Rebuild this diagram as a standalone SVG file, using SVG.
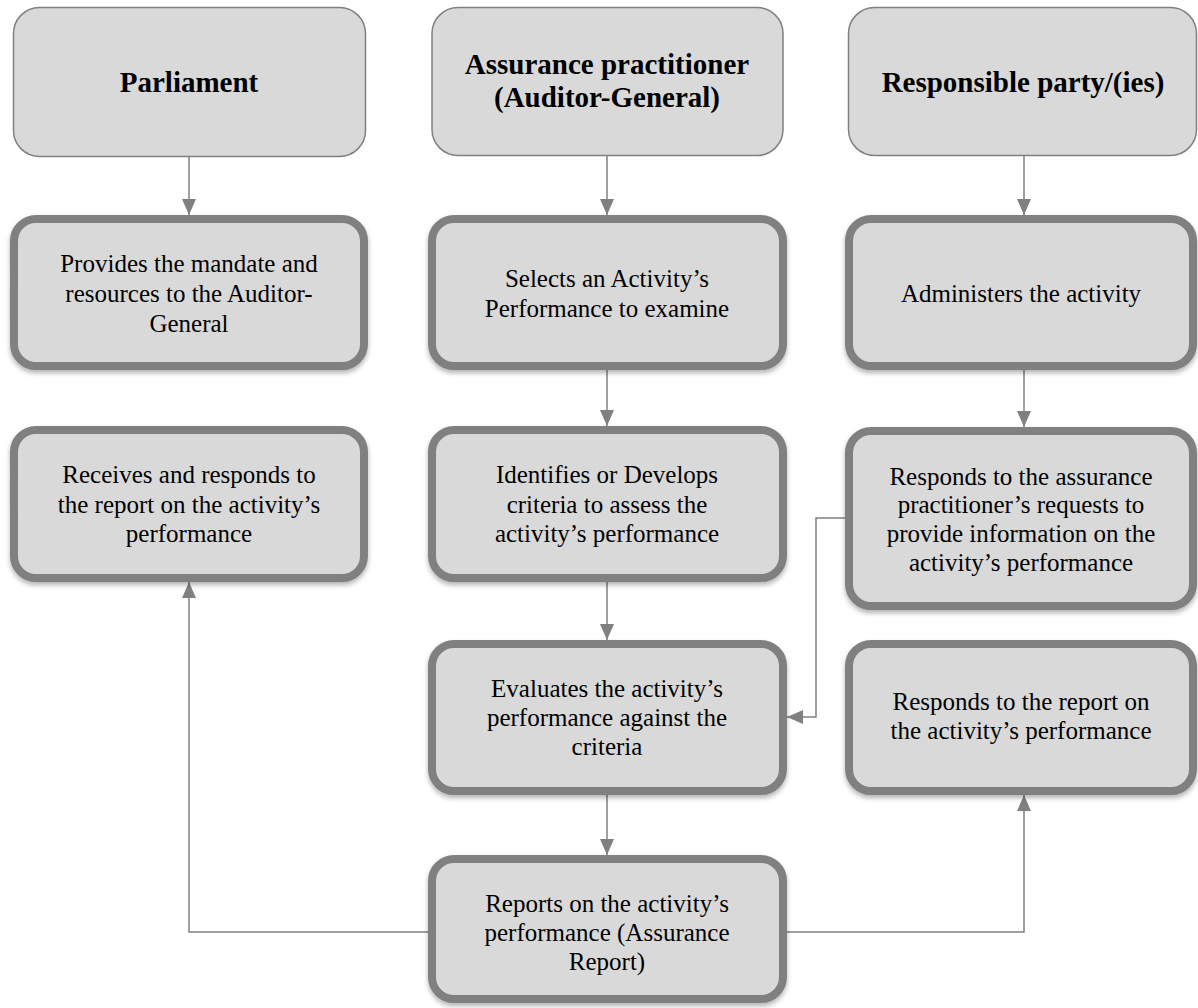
<svg xmlns="http://www.w3.org/2000/svg" width="1198" height="1008" viewBox="0 0 1198 1008">
<style>
.hdr{fill:#d9d9d9;stroke:#808080;stroke-width:1.5}
.box{fill:#d9d9d9;stroke:#808080;stroke-width:8;filter:url(#sh)}
.t{font-family:"Liberation Serif","Times New Roman",serif;font-size:25px;fill:#000;text-anchor:middle}
.b{font-family:"Liberation Serif","Times New Roman",serif;font-size:29px;font-weight:bold;fill:#000;text-anchor:middle}
.c{fill:none;stroke:#808080;stroke-width:1.5;marker-end:url(#ah)}
</style>
<defs>
<filter id="sh" x="-10%" y="-10%" width="120%" height="130%">
<feDropShadow dx="0" dy="3" stdDeviation="2.5" flood-color="#000" flood-opacity="0.3"/>
</filter>
<marker id="ah" viewBox="0 0 16 14" refX="16" refY="7" markerWidth="16" markerHeight="14" markerUnits="userSpaceOnUse" orient="auto">
<path d="M0,0 L16,7 L0,14 Z" fill="#808080"/>
</marker>
</defs>
<rect width="1198" height="1008" fill="#fff"/>
<g id="connectors">
<path class="c" d="M189,157 V215"/>
<path class="c" d="M607,155 V215"/>
<path class="c" d="M1024,156 V215"/>
<path class="c" d="M607,370 V426"/>
<path class="c" d="M607,582 V640"/>
<path class="c" d="M607,795 V855"/>
<path class="c" d="M1024,370 V427"/>
<path class="c" d="M845,518 H816 V717 H787"/>
<path class="c" d="M428,932 H189 V582"/>
<path class="c" d="M787,932 H1024 V795"/>
</g>
<g id="h-parliament">
<rect class="hdr" x="13.5" y="7.5" width="352" height="149" rx="26"/>
<text class="b" x="189" y="92">Parliament</text>
</g>
<g id="h-practitioner">
<rect class="hdr" x="432" y="7.5" width="351" height="148" rx="26"/>
<text class="b" x="607" y="74">Assurance practitioner</text>
<text class="b" x="607" y="107">(Auditor-General)</text>
</g>
<g id="h-responsible">
<rect class="hdr" x="848.5" y="7.5" width="348" height="148" rx="26"/>
<text class="b" x="1023" y="92">Responsible party/(ies)</text>
</g>
<g id="n-provides">
<rect class="box" x="14" y="219" width="350" height="147" rx="22"/>
<text class="t" x="189" y="272">Provides the mandate and</text>
<text class="t" x="189" y="302">resources to the Auditor-</text>
<text class="t" x="189" y="332">General</text>
</g>
<g id="n-selects">
<rect class="box" x="432" y="219" width="351" height="147" rx="22"/>
<text class="t" x="607" y="287">Selects an Activity’s</text>
<text class="t" x="607" y="317">Performance to examine</text>
</g>
<g id="n-administers">
<rect class="box" x="849" y="219" width="344" height="147" rx="22"/>
<text class="t" x="1021" y="302">Administers the activity</text>
</g>
<g id="n-receives">
<rect class="box" x="14" y="430" width="350" height="148" rx="22"/>
<text class="t" x="189" y="483">Receives and responds to</text>
<text class="t" x="189" y="513">the report on the activity’s</text>
<text class="t" x="189" y="542">performance</text>
</g>
<g id="n-identifies">
<rect class="box" x="432" y="430" width="351" height="148" rx="22"/>
<text class="t" x="607" y="483">Identifies or Develops</text>
<text class="t" x="607" y="513">criteria to assess the</text>
<text class="t" x="607" y="542">activity’s performance</text>
</g>
<g id="n-responds-requests">
<rect class="box" x="849" y="431" width="344" height="175" rx="22"/>
<text class="t" x="1021" y="485">Responds to the assurance</text>
<text class="t" x="1021" y="513">practitioner’s requests to</text>
<text class="t" x="1021" y="542">provide information on the</text>
<text class="t" x="1021" y="571">activity’s performance</text>
</g>
<g id="n-evaluates">
<rect class="box" x="432" y="644" width="351" height="147" rx="22"/>
<text class="t" x="607" y="697">Evaluates the activity’s</text>
<text class="t" x="607" y="726">performance against the</text>
<text class="t" x="607" y="755">criteria</text>
</g>
<g id="n-responds-report">
<rect class="box" x="849" y="644" width="344" height="147" rx="22"/>
<text class="t" x="1021" y="710">Responds to the report on</text>
<text class="t" x="1021" y="739">the activity’s performance</text>
</g>
<g id="n-reports">
<rect class="box" x="432" y="859" width="351" height="140" rx="22"/>
<text class="t" x="607" y="912">Reports on the activity’s</text>
<text class="t" x="607" y="941">performance (Assurance</text>
<text class="t" x="607" y="970">Report)</text>
</g>
</svg>
